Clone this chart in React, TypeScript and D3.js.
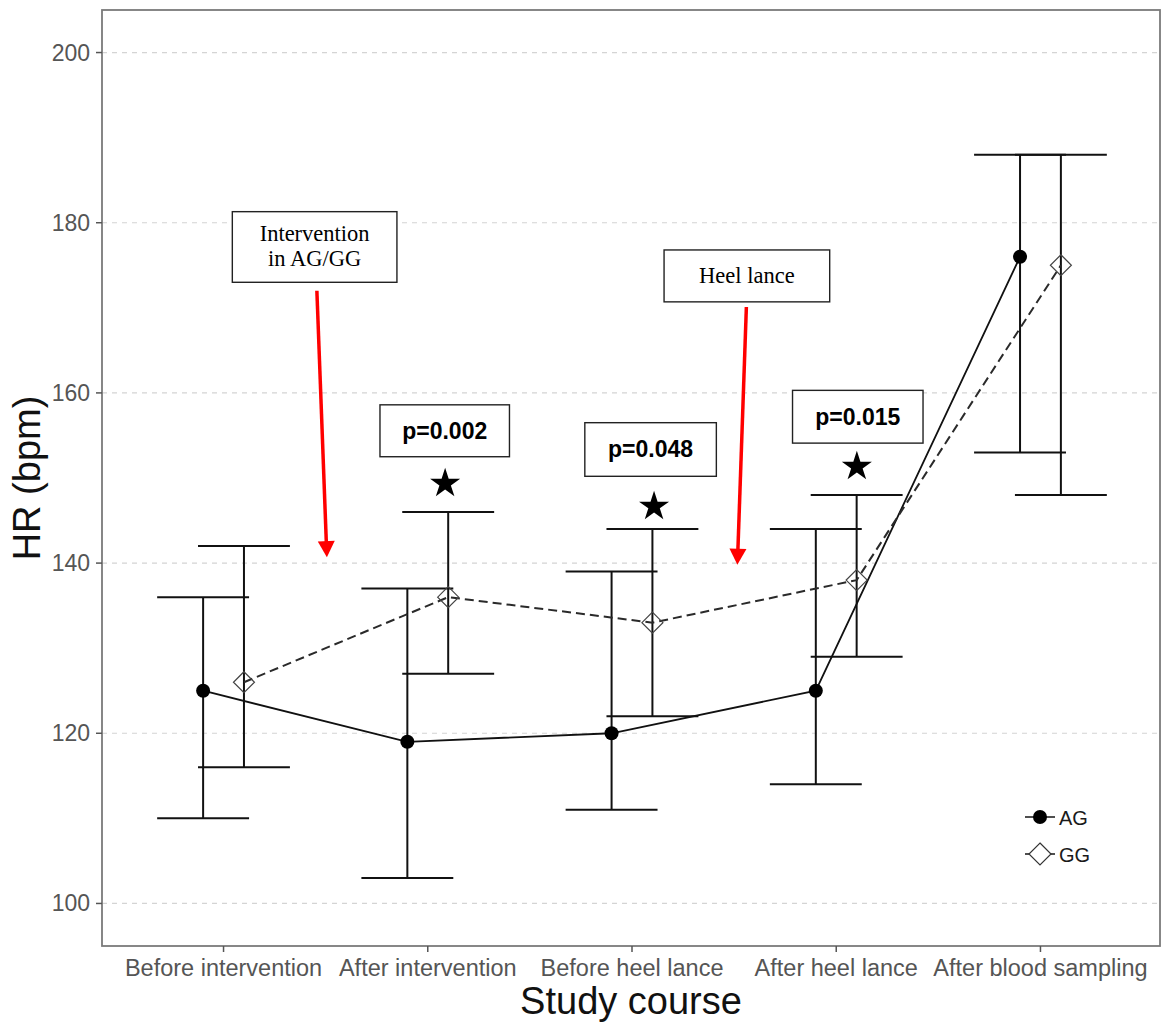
import React from 'react';
import * as d3 from 'd3';

const categories = [
  'Before intervention',
  'After intervention',
  'Before heel lance',
  'After heel lance',
  'After blood sampling',
];
const agMean = [125, 119, 120, 125, 176];
const agLower = [110, 103, 111, 114, 153];
const agUpper = [136, 137, 139, 144, 188];
const ggMean = [126, 136, 133, 138, 175];
const ggLower = [116, 127, 122, 129, 148];
const ggUpper = [142, 146, 144, 148, 188];
const yTicks = [100, 120, 140, 160, 180, 200];

// annotations, in category-index / bpm units
const pLabels = ['p=0.002', 'p=0.048', 'p=0.015'];
const pBoxes = [
  { x0: 0.766, x1: 1.4, top: 158.6, bottom: 152.5 },
  { x0: 1.769, x1: 2.413, top: 156.5, bottom: 150.2 },
  { x0: 2.786, x1: 3.425, top: 160.3, bottom: 154.1 },
];
const stars = [
  { x: 1.085, v: 149.35 },
  { x: 2.108, v: 146.65 },
  { x: 3.101, v: 151.35 },
];
const events = [
  { lines: ['Intervention', 'in AG/GG'], x0: 0.043, x1: 0.849, top: 181.3, bottom: 173.0,
    from: { x: 0.457, v: 172.0 }, to: { x: 0.506, v: 140.7 } },
  { lines: ['Heel lance'], x0: 2.157, x1: 2.968, top: 176.8, bottom: 170.7,
    from: { x: 2.56, v: 170.1 }, to: { x: 2.516, v: 139.8 } },
];

const W = 1164;
const H = 1026;
const panel = { left: 102, right: 1160, top: 10, bottom: 946 };

const series = [
  { name: 'AG', mean: agMean, lower: agLower, upper: agUpper, offset: -0.1, dash: undefined, filled: true },
  { name: 'GG', mean: ggMean, lower: ggLower, upper: ggUpper, offset: 0.1, dash: '9,5', filled: false },
];

const sans = '"Liberation Sans", Arial, sans-serif';
const serif = '"Liberation Serif", "Times New Roman", serif';

const diamond = (cx: number, cy: number, r: number) =>
  `M${cx},${cy - r}L${cx + r},${cy}L${cx},${cy + r}L${cx - r},${cy}Z`;

export default function App() {
  const x = d3.scalePoint<string>().domain(categories).range([101, 1163]).padding(0.6);
  const step = x.step();
  const xi = (i: number) => (x(categories[0]) as number) + i * step;
  const y = d3.scaleLinear().domain([95, 205]).range([panel.bottom, panel.top]);
  const capHalf = 0.225 * step;
  const star = d3.symbol().type(d3.symbolStar).size(280)();

  const arrow = (from: { x: number; v: number }, to: { x: number; v: number }) => {
    const x1 = xi(from.x), y1 = y(from.v), x2 = xi(to.x), y2 = y(to.v);
    const len = Math.hypot(x2 - x1, y2 - y1);
    const ux = (x2 - x1) / len, uy = (y2 - y1) / len;
    const bx = x2 - ux * 16, by = y2 - uy * 16;
    const px = -uy * 8.5, py = ux * 8.5;
    return {
      line: { x1, y1, x2: bx + ux * 2, y2: by + uy * 2 },
      head: `M${x2},${y2}L${bx + px},${by + py}L${bx - px},${by - py}Z`,
    };
  };

  return (
    <svg width={W} height={H} style={{ position: 'absolute', left: 0, top: 0, background: '#fff' }}>
      <rect x={0} y={0} width={W} height={H} fill="#fff" />
      {/* grid */}
      {yTicks.map((t) => (
        <line key={'g' + t} x1={panel.left} x2={panel.right} y1={y(t)} y2={y(t)}
          stroke="#d4d4d4" strokeWidth={1.2} strokeDasharray="5,5" />
      ))}

      {/* error bars */}
      {series.map((s) =>
        s.mean.map((_, i) => {
          const cx = xi(i + s.offset);
          return (
            <g key={s.name + 'e' + i} stroke="#111" strokeWidth={2}>
              <line x1={cx} x2={cx} y1={y(s.upper[i])} y2={y(s.lower[i])} />
              <line x1={cx - capHalf} x2={cx + capHalf} y1={y(s.upper[i])} y2={y(s.upper[i])} />
              <line x1={cx - capHalf} x2={cx + capHalf} y1={y(s.lower[i])} y2={y(s.lower[i])} />
            </g>
          );
        })
      )}

      {/* lines */}
      {series.map((s) => {
        const path = d3.line<number>().x((_, i) => xi(i + s.offset)).y((d) => y(d))(s.mean);
        return (
          <path key={s.name + 'l'} d={path || ''} fill="none"
            stroke={s.filled ? '#111' : '#2a2a2a'} strokeWidth={s.filled ? 1.8 : 2} strokeDasharray={s.dash} />
        );
      })}

      {/* points */}
      {series.map((s) =>
        s.mean.map((v, i) => {
          const cx = xi(i + s.offset);
          return s.filled ? (
            <circle key={s.name + 'p' + i} cx={cx} cy={y(v)} r={7} fill="#000" />
          ) : (
            <path key={s.name + 'p' + i} d={diamond(cx, y(v), 10.5)} fill="none" stroke="#444" strokeWidth={1.2} />
          );
        })
      )}

      {/* p-value boxes and stars */}
      {pBoxes.map((b, i) => {
        const bx0 = xi(b.x0), bx1 = xi(b.x1), by0 = y(b.top), by1 = y(b.bottom);
        return (
          <g key={'pb' + i}>
            <rect x={bx0} y={by0} width={bx1 - bx0} height={by1 - by0} fill="#fff" stroke="#222" strokeWidth={1.4} />
            <text x={(bx0 + bx1) / 2} y={(by0 + by1) / 2 + 8} textAnchor="middle"
              fontFamily={sans} fontWeight="bold" fontSize={23} fill="#000">{pLabels[i]}</text>
          </g>
        );
      })}
      {stars.map((s, i) => (
        <path key={'st' + i} d={star || ''} transform={`translate(${xi(s.x)},${y(s.v)})`} fill="#000" />
      ))}

      {/* event annotations */}
      {events.map((e, i) => {
        const bx0 = xi(e.x0), bx1 = xi(e.x1), by0 = y(e.top), by1 = y(e.bottom);
        const a = arrow(e.from, e.to);
        const cy = (by0 + by1) / 2;
        const lh = 25;
        const firstBase = cy + 7 - ((e.lines.length - 1) * lh) / 2;
        return (
          <g key={'ev' + i}>
            <rect x={bx0} y={by0} width={bx1 - bx0} height={by1 - by0} fill="#fff" stroke="#222" strokeWidth={1.4} />
            {e.lines.map((t, j) => (
              <text key={j} x={(bx0 + bx1) / 2} y={firstBase + j * lh} textAnchor="middle"
                fontFamily={serif} fontSize={22.5} fill="#000">{t}</text>
            ))}
            <line {...a.line} stroke="#ff0000" strokeWidth={3.5} />
            <path d={a.head} fill="#ff0000" />
          </g>
        );
      })}

      {/* legend */}
      {series.map((s, i) => {
        const ly = 817 + i * 37;
        return (
          <g key={'lg' + s.name}>
            <line x1={1025} x2={1055} y1={ly} y2={ly} stroke="#222" strokeWidth={1.6} />
            {s.filled ? (
              <circle cx={1040} cy={ly} r={7} fill="#000" />
            ) : (
              <path d={diamond(1040, ly, 11)} fill="#fff" stroke="#333" strokeWidth={1.2} />
            )}
            <text x={1059} y={ly + 7.5} fontFamily={sans} fontSize={20} fill="#1a1a1a">{s.name}</text>
          </g>
        );
      })}

      {/* panel border */}
      <rect x={panel.left} y={panel.top} width={panel.right - panel.left} height={panel.bottom - panel.top}
        fill="none" stroke="#7a7a7a" strokeWidth={1.8} />

      {/* y axis */}
      {yTicks.map((t) => (
        <g key={'yt' + t}>
          <line x1={panel.left - 6} x2={panel.left} y1={y(t)} y2={y(t)} stroke="#555" strokeWidth={1.5} />
          <text x={panel.left - 12} y={y(t) + 8} textAnchor="end" fontFamily={sans} fontSize={23} fill="#555">{t}</text>
        </g>
      ))}
      {/* x axis */}
      {categories.map((c) => (
        <g key={'xt' + c}>
          <line x1={x(c)} x2={x(c)} y1={panel.bottom} y2={panel.bottom + 6} stroke="#555" strokeWidth={1.5} />
          <text x={x(c)} y={panel.bottom + 30} textAnchor="middle" fontFamily={sans} fontSize={23.5} fill="#555">{c}</text>
        </g>
      ))}

      <text x={(panel.left + panel.right) / 2} y={1014} textAnchor="middle" fontFamily={sans} fontSize={38} fill="#111">
        Study course
      </text>
      <text transform={`translate(40,${(panel.top + panel.bottom) / 2}) rotate(-90)`} textAnchor="middle"
        fontFamily={sans} fontSize={38} fill="#111">
        HR (bpm)
      </text>
    </svg>
  );
}
